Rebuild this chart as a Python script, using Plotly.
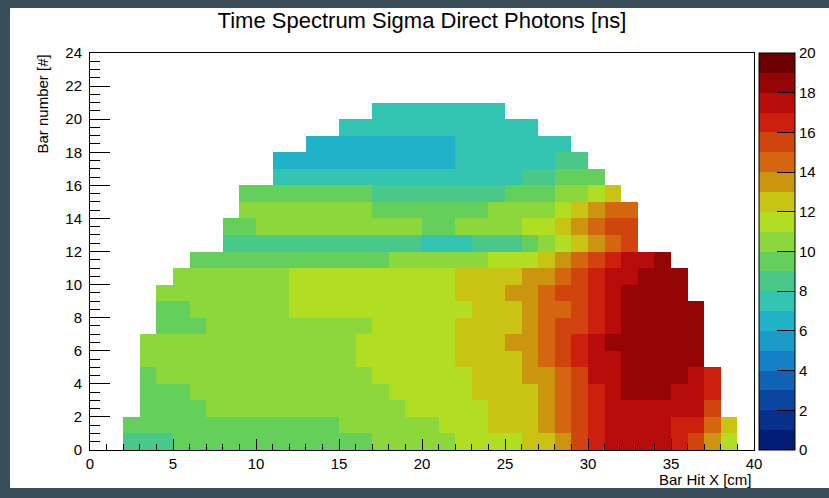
import plotly.graph_objects as go

# Sigma of the direct-photon time spectrum [ns] per (bar hit x, bar number) bin.
# Each row is one bar (y bin), starting at the x bin given in first_bin (1 cm bins).
first_bin = [2, 2, 3, 3, 3, 3, 3, 4, 4, 4, 5, 6, 8, 8, 9, 9, 11, 11, 13, 15, 17]

y00 = [8.5, 8.5, 8.5, 9.5, 9.5, 9.5, 9.5, 9.5, 9.5, 9.5, 9.5, 9.5, 9.5, 9.5, 9.5,
       10.5, 10.5, 10.5, 10.5, 10.5, 11.5, 11.5, 11.5, 11.5, 12.5, 12.5, 13.5, 15.5, 16.5,
       17.5, 17.5, 17.5, 17.5, 16.5, 15.5, 13.5, 11.5]
y01 = [9.5, 9.5, 9.5, 9.5, 9.5, 9.5, 9.5, 9.5, 9.5, 9.5, 9.5, 9.5, 9.5,
       10.5, 10.5, 10.5, 10.5, 10.5, 10.5, 11.5, 11.5, 11.5, 12.5, 12.5, 12.5,
       13.5, 14.5, 15.5, 16.5, 17.5, 17.5, 17.5, 17.5, 16.5, 16.5, 14.5, 12.5]
y02 = [9.5, 9.5, 9.5, 9.5, 10.5, 10.5, 10.5, 10.5, 10.5, 10.5, 10.5, 10.5, 10.5, 10.5, 10.5, 10.5,
       11.5, 11.5, 11.5, 11.5, 11.5, 12.5, 12.5, 12.5, 13.5, 14.5, 15.5, 16.5,
       17.5, 17.5, 17.5, 17.5, 17.5, 17.5, 15.5]
y03 = [9.5, 9.5, 9.5, 10.5, 10.5, 10.5, 10.5, 10.5, 10.5, 10.5, 10.5, 10.5, 10.5, 10.5, 10.5,
       11.5, 11.5, 11.5, 11.5, 11.5, 12.5, 12.5, 12.5, 12.5, 13.5, 14.5, 15.5, 16.5, 17.5,
       18.5, 18.5, 18.5, 17.5, 17.5, 16.5]
y04 = [9.5, 10.5, 10.5, 10.5, 10.5, 10.5, 10.5, 10.5, 10.5, 10.5, 10.5, 10.5, 10.5, 10.5,
       11.5, 11.5, 11.5, 11.5, 11.5, 11.5, 12.5, 12.5, 12.5, 13.5, 13.5, 14.5, 15.5,
       17.5, 17.5, 18.5, 18.5, 18.5, 18.5, 17.5, 16.5]
y05 = [10.5, 10.5, 10.5, 10.5, 10.5, 10.5, 10.5, 10.5, 10.5, 10.5, 10.5, 10.5, 10.5,
       11.5, 11.5, 11.5, 11.5, 11.5, 11.5, 12.5, 12.5, 12.5, 12.5, 13.5, 14.5, 15.5, 16.5,
       17.5, 17.5, 18.5, 18.5, 18.5, 18.5, 18.5]
y06 = [10.5, 10.5, 10.5, 10.5, 10.5, 10.5, 10.5, 10.5, 10.5, 10.5, 10.5, 10.5, 10.5,
       11.5, 11.5, 11.5, 11.5, 11.5, 11.5, 12.5, 12.5, 12.5, 13.5, 13.5, 14.5, 15.5, 16.5,
       17.5, 18.5, 18.5, 18.5, 18.5, 18.5, 18.5]
y07 = [9.5, 9.5, 9.5, 10.5, 10.5, 10.5, 10.5, 10.5, 10.5, 10.5, 10.5, 10.5, 10.5,
       11.5, 11.5, 11.5, 11.5, 11.5, 12.5, 12.5, 12.5, 12.5, 13.5, 14.5, 15.5, 15.5,
       16.5, 17.5, 18.5, 18.5, 18.5, 18.5, 18.5]
y08 = [9.5, 9.5, 10.5, 10.5, 10.5, 10.5, 10.5, 10.5,
       11.5, 11.5, 11.5, 11.5, 11.5, 11.5, 11.5, 11.5, 11.5, 11.5, 11.5,
       12.5, 12.5, 12.5, 13.5, 14.5, 14.5, 15.5, 16.5, 17.5, 18.5, 18.5, 18.5, 18.5, 18.5]
y09 = [10.5, 10.5, 10.5, 10.5, 10.5, 10.5, 10.5, 10.5,
       11.5, 11.5, 11.5, 11.5, 11.5, 11.5, 11.5, 11.5, 11.5, 11.5,
       12.5, 12.5, 12.5, 13.5, 13.5, 14.5, 15.5, 15.5, 16.5, 17.5, 18.5, 18.5, 18.5, 18.5]
y10 = [10.5, 10.5, 10.5, 10.5, 10.5, 10.5, 10.5,
       11.5, 11.5, 11.5, 11.5, 11.5, 11.5, 11.5, 11.5, 11.5, 11.5,
       12.5, 12.5, 12.5, 12.5, 13.5, 13.5, 14.5, 15.5, 16.5, 17.5, 17.5, 18.5, 18.5, 18.5]
y11 = [9.5, 9.5, 9.5, 9.5, 9.5, 9.5, 9.5, 9.5, 9.5, 9.5, 9.5, 9.5,
       10.5, 10.5, 10.5, 10.5, 10.5, 10.5, 11.5, 11.5, 11.5,
       12.5, 13.5, 14.5, 15.5, 16.5, 17.5, 17.5, 18.5]
y12 = [8.5, 8.5, 8.5, 8.5, 8.5, 8.5, 8.5, 8.5, 8.5, 8.5, 8.5, 8.5,
       7.5, 7.5, 7.5, 8.5, 8.5, 8.5, 9.5, 10.5, 11.5, 12.5, 13.5, 14.5, 15.5]
y13 = [9.5, 9.5, 10.5, 10.5, 10.5, 10.5, 10.5, 10.5, 10.5, 10.5, 10.5, 10.5,
       9.5, 9.5, 10.5, 10.5, 10.5, 10.5, 11.5, 11.5, 12.5, 13.5, 14.5, 15.5, 15.5]
y14 = [10.5, 10.5, 10.5, 10.5, 10.5, 10.5, 10.5, 10.5,
       9.5, 9.5, 9.5, 9.5, 9.5, 9.5, 9.5,
       10.5, 10.5, 10.5, 10.5, 11.5, 12.5, 13.5, 14.5, 14.5]
y15 = [9.5, 9.5, 9.5, 9.5, 9.5, 9.5, 9.5, 9.5,
       8.5, 8.5, 8.5, 8.5, 8.5, 8.5, 8.5, 8.5,
       9.5, 9.5, 9.5, 10.5, 10.5, 11.5, 12.5]
y16 = [7.5, 7.5, 7.5, 7.5, 7.5, 7.5, 7.5, 7.5, 7.5, 7.5, 7.5, 7.5, 7.5, 7.5, 7.5,
       8.5, 8.5, 9.5, 9.5, 9.5]
y17 = [6.5, 6.5, 6.5, 6.5, 6.5, 6.5, 6.5, 6.5, 6.5, 6.5, 6.5,
       7.5, 7.5, 7.5, 7.5, 7.5, 7.5, 8.5, 8.5]
y18 = [6.5, 6.5, 6.5, 6.5, 6.5, 6.5, 6.5, 6.5, 6.5,
       7.5, 7.5, 7.5, 7.5, 7.5, 7.5, 7.5]
y19 = [7.5, 7.5, 7.5, 7.5, 7.5, 7.5, 7.5, 7.5, 7.5, 7.5, 7.5, 7.5]
y20 = [7.5, 7.5, 7.5, 7.5, 7.5, 7.5, 7.5, 7.5]

rows = [y00, y01, y02, y03, y04, y05, y06, y07, y08, y09, y10,
        y11, y12, y13, y14, y15, y16, y17, y18, y19, y20]

n_x_bins = 40
n_y_bins = 24
cbar_ticks = [0, 2, 4, 6, 8, 10, 12, 14, 16, 18, 20]

# ROOT rainbow palette, 20 contour levels from 0 to 20
palette = ["#001c74", "#06308c", "#0a46a0", "#1062b4", "#1480c8",
           "#1a9cc8", "#20b2c8", "#33c4b1", "#4ac88a", "#64cf5a",
           "#8bd73c", "#b1de22", "#c9c414", "#cc9510", "#d46610",
           "#d2440e", "#cc1f0d", "#b80c0b", "#960505", "#6c0000"]

colorscale = []
for i, c in enumerate(palette):
    colorscale.append([i / len(palette), c])
    colorscale.append([(i + 1) / len(palette), c])

z = [[None] * n_x_bins for _ in range(n_y_bins)]
for iy, (start, vals) in enumerate(zip(first_bin, rows)):
    for i, v in enumerate(vals):
        z[iy][start + i] = v

font = "Liberation Sans, Arial, Helvetica, sans-serif"

fig = go.Figure(go.Heatmap(
    z=z, x0=0.5, dx=1, y0=0.5, dy=1,
    zmin=0, zmax=20,
    colorscale=colorscale,
    hoverongaps=False,
    colorbar=dict(
        thickness=36, thicknessmode="pixels",
        len=1, lenmode="fraction",
        x=1.007, xanchor="left", y=0.5, yanchor="middle",
        xpad=0, ypad=0,
        outlinewidth=1, outlinecolor="black",
        tickmode="array", tickvals=cbar_ticks,
        ticks="inside", ticklen=18, tickcolor="black",
        tickfont=dict(family=font, size=15, color="black"),
    ),
))

# dark frame around the white canvas, as in the screenshot
W, H = 829, 498
ml, mr, mt, mb = 90, 75, 53, 48
pw, ph = W - ml - mr, H - mt - mb


def px(x):
    return (x - ml) / pw


def py(y):
    return (H - mb - y) / ph


fig.add_shape(type="rect", xref="paper", yref="paper",
              x0=px(10), x1=px(W + 2), y0=py(488), y1=py(8),
              fillcolor="white", line=dict(width=0), layer="below")

fig.add_annotation(text="Bar number [#]", xref="paper", yref="paper",
                   x=px(42), y=1.0, xanchor="center", yanchor="top",
                   textangle=-90, showarrow=False,
                   font=dict(family=font, size=15, color="black"))
fig.add_annotation(text="Bar Hit X [cm]", xref="paper", yref="paper",
                   x=1.0, y=py(479), xanchor="right", yanchor="middle",
                   showarrow=False,
                   font=dict(family=font, size=15, color="black"))

fig.update_layout(
    width=W, height=H,
    margin=dict(l=ml, r=mr, t=mt, b=mb, autoexpand=False),
    paper_bgcolor="#3a4d5a",
    plot_bgcolor="white",
    title=dict(text="Time Spectrum Sigma Direct Photons [ns]",
               x=0.5, xref="paper", y=1 - 20 / H, yanchor="middle",
               font=dict(family=font, size=22, color="black")),
    xaxis=dict(range=[0, n_x_bins], tick0=0, dtick=5,
               ticks="inside", ticklen=11, tickcolor="black",
               minor=dict(dtick=1, ticks="inside", ticklen=6, tickcolor="black"),
               showline=True, linecolor="black", mirror=True,
               showgrid=False, zeroline=False,
               tickfont=dict(family=font, size=15, color="black")),
    yaxis=dict(range=[0, n_y_bins], tick0=0, dtick=2,
               ticks="inside", ticklen=20, tickcolor="black",
               minor=dict(dtick=0.5, ticks="inside", ticklen=10, tickcolor="black"),
               showline=True, linecolor="black", mirror=True,
               showgrid=False, zeroline=False, ticklabelstandoff=4,
               tickfont=dict(family=font, size=15, color="black")),
)

# the page's default 8px body margin would shift the whole canvas
fig.write_html("out.html", config={"displayModeBar": False},
               post_script="document.body.style.margin = '0';")
